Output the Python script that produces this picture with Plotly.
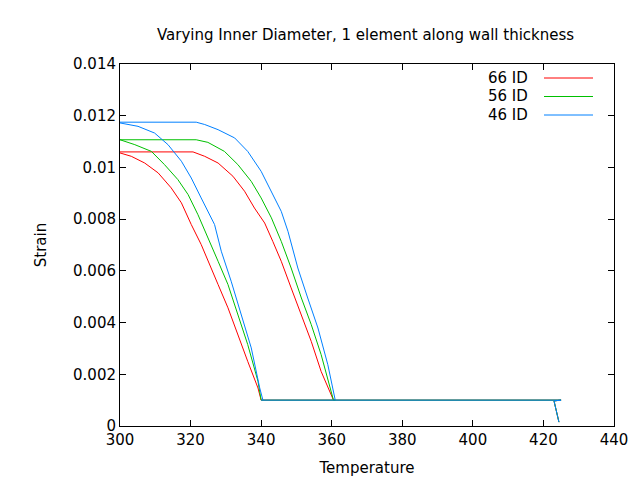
import plotly.graph_objects as go

names = ["66 ID", "56 ID", "46 ID"]
colors = ["#ff0000", "#00c000", "#0080ff"]

# heating branches (flat start, then drop)
heat_T = [
    [300, 320.7, 324.0, 327.8, 332.0, 335.3, 338.1, 341.0, 343.3, 345.7, 348.5, 351.3, 354.2, 357.0, 360.5],
    [300, 321.6, 324.9, 329.6, 333.4, 337.2, 340.0, 342.9, 345.7, 348.5, 351.4, 354.2, 357.0, 360.5],
    [300, 321.6, 324.0, 327.8, 332.5, 336.2, 340.0, 342.9, 345.7, 347.6, 350.4, 353.2, 356.1, 358.9, 361.0],
]
heat_S = [
    [0.0106, 0.0106, 0.01043, 0.01017, 0.00966, 0.00908, 0.00843, 0.00785, 0.00714, 0.00637, 0.00534, 0.00431, 0.00327, 0.00211, 0.00100],
    [0.01107, 0.01107, 0.01097, 0.01062, 0.01011, 0.00946, 0.00882, 0.00805, 0.00714, 0.00611, 0.00495, 0.00392, 0.00276, 0.00100],
    [0.01175, 0.01175, 0.01166, 0.01146, 0.01114, 0.01062, 0.00985, 0.00908, 0.00830, 0.00753, 0.00611, 0.00495, 0.00379, 0.00237, 0.00100],
]
# cooling branches (from 340 back to 300)
cool_T = [
    [340.0, 339.1, 336.2, 333.4, 330.6, 327.8, 325.9, 323.0, 320.2, 317.4, 314.5, 310.8, 307.0, 303.2, 300],
    [340.0, 339.1, 336.2, 333.4, 330.6, 327.8, 324.9, 322.1, 319.3, 316.4, 312.6, 308.9, 304.2, 300],
    [340.5, 339.6, 337.2, 334.4, 331.5, 328.7, 326.8, 323.0, 320.2, 317.4, 313.6, 309.8, 305.1, 300],
]
cool_S = [
    [0.00100, 0.00147, 0.00250, 0.00353, 0.00457, 0.00547, 0.00611, 0.00702, 0.00779, 0.00863, 0.00921, 0.00979, 0.01017, 0.01043, 0.01056],
    [0.00100, 0.00173, 0.00315, 0.00431, 0.00547, 0.00637, 0.00727, 0.00817, 0.00895, 0.00953, 0.01011, 0.01062, 0.01088, 0.01107],
    [0.00100, 0.00147, 0.00302, 0.00431, 0.00560, 0.00676, 0.00779, 0.00882, 0.00959, 0.01024, 0.01088, 0.01133, 0.01159, 0.01172],
]
# plateau and final drop
tail_T = [425, 423.0, 424.4]
tail_S = [0.00100, 0.00097, 0.00015]
low_T = [340.0, 361.0]

fig = go.Figure()
for i in range(3):
    xs = heat_T[i] + [tail_T[0], tail_T[1], tail_T[2], None] + [low_T[0], low_T[1], None] + cool_T[i]
    ys = heat_S[i] + [tail_S[0], tail_S[1], tail_S[2], None] + [0.001, 0.001, None] + cool_S[i]
    fig.add_trace(go.Scatter(x=xs, y=ys, mode="lines", name=names[i],
                             line=dict(color=colors[i], width=1), showlegend=False))

ann = [dict(text="Varying Inner Diameter, 1 element along wall thickness", x=(357 - 112) / 494, y=1.0,
            xref="paper", yref="paper", yanchor="middle", yshift=29, showarrow=False, font=dict(size=15))]
shapes = []
for i, n in enumerate(names):
    py = 70 + 18.5 * i
    yp = (418 - py) / 362
    ann.append(dict(text=n, x=(522 - 112) / 494, y=yp, xref="paper", yref="paper",
                    xanchor="right", yanchor="middle", showarrow=False, font=dict(size=15)))
    shapes.append(dict(type="line", xref="paper", yref="paper", x0=(536 - 112) / 494,
                       x1=(585 - 112) / 494, y0=yp, y1=yp, line=dict(color=colors[i], width=1)))

ax = dict(showline=True, mirror="ticks", linecolor="black", linewidth=1, ticks="inside",
          ticklen=6, tickcolor="black", showgrid=False, zeroline=False, automargin=False,
          tickfont=dict(size=15))
fig.update_layout(
    width=640, height=480, margin=dict(l=112, r=34, t=56, b=62, autoexpand=False),
    plot_bgcolor="white", paper_bgcolor="white",
    font=dict(family="DejaVu Sans", color="black"),
    annotations=ann, shapes=shapes,
    xaxis=dict(ax, range=[300, 440], dtick=20, title=dict(text="Temperature", font=dict(size=15), standoff=14)),
    yaxis=dict(ax, range=[0, 0.014], dtick=0.002, tickformat="~g", title=dict(text="Strain", font=dict(size=15), standoff=22)),
)
fig.write_html("out.html")
